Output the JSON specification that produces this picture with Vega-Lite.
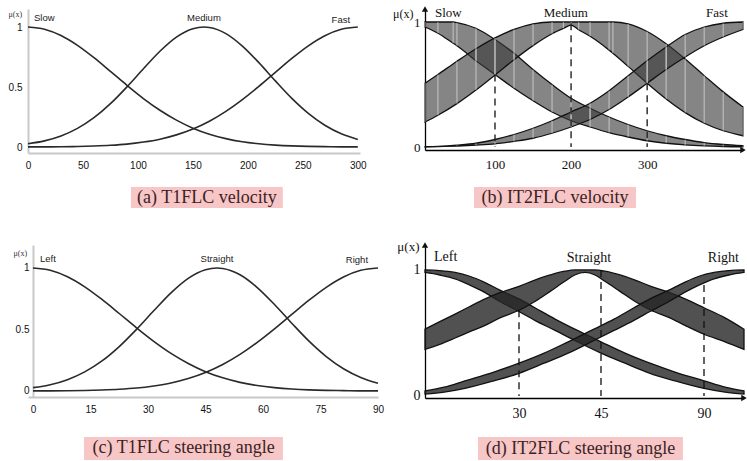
{
"$schema": "https://vega.github.io/schema/vega-lite/v6.json",
"background": "white",
"padding": {"left": 8, "top": 6, "right": 0, "bottom": 0},
"config": {"view": {"stroke": null}, "axis": {"grid": false, "labelFlush": false, "labelOverlap": false, "labelBound": false}},
"datasets": {
"t1v": [
{"x":0,"s":"Slow","m":1},{"x":15,"s":"Slow","m":0.982},{"x":30,"s":"Slow","m":0.929},{"x":45,"s":"Slow","m":0.847},{"x":60,"s":"Slow","m":0.744},{"x":75,"s":"Slow","m":0.63},{"x":90,"s":"Slow","m":0.514},{"x":105,"s":"Slow","m":0.404},{"x":120,"s":"Slow","m":0.306},{"x":135,"s":"Slow","m":0.224},{"x":150,"s":"Slow","m":0.157},{"x":165,"s":"Slow","m":0.107},{"x":180,"s":"Slow","m":0.07},{"x":195,"s":"Slow","m":0.044},{"x":210,"s":"Slow","m":0.027},{"x":225,"s":"Slow","m":0.016},{"x":240,"s":"Slow","m":0.009},{"x":255,"s":"Slow","m":0.005},{"x":270,"s":"Slow","m":0.003},{"x":285,"s":"Slow","m":0.001},{"x":300,"s":"Slow","m":0.001},
{"x":0,"s":"Medium","m":0.027},{"x":15,"s":"Medium","m":0.051},{"x":30,"s":"Medium","m":0.092},{"x":45,"s":"Medium","m":0.155},{"x":60,"s":"Medium","m":0.244},{"x":75,"s":"Medium","m":0.361},{"x":90,"s":"Medium","m":0.501},{"x":105,"s":"Medium","m":0.652},{"x":120,"s":"Medium","m":0.798},{"x":135,"s":"Medium","m":0.916},{"x":150,"s":"Medium","m":0.986},{"x":160,"s":"Medium","m":1},{"x":165,"s":"Medium","m":0.996},{"x":180,"s":"Medium","m":0.945},{"x":195,"s":"Medium","m":0.841},{"x":210,"s":"Medium","m":0.703},{"x":225,"s":"Medium","m":0.551},{"x":240,"s":"Medium","m":0.405},{"x":255,"s":"Medium","m":0.28},{"x":270,"s":"Medium","m":0.181},{"x":285,"s":"Medium","m":0.11},{"x":300,"s":"Medium","m":0.063},
{"x":0,"s":"Fast","m":0.001},{"x":15,"s":"Fast","m":0.001},{"x":30,"s":"Fast","m":0.002},{"x":45,"s":"Fast","m":0.004},{"x":60,"s":"Fast","m":0.008},{"x":75,"s":"Fast","m":0.014},{"x":90,"s":"Fast","m":0.024},{"x":105,"s":"Fast","m":0.041},{"x":120,"s":"Fast","m":0.065},{"x":135,"s":"Fast","m":0.101},{"x":150,"s":"Fast","m":0.15},{"x":165,"s":"Fast","m":0.215},{"x":180,"s":"Fast","m":0.297},{"x":195,"s":"Fast","m":0.395},{"x":210,"s":"Fast","m":0.505},{"x":225,"s":"Fast","m":0.622},{"x":240,"s":"Fast","m":0.738},{"x":255,"s":"Fast","m":0.843},{"x":270,"s":"Fast","m":0.927},{"x":285,"s":"Fast","m":0.981},{"x":300,"s":"Fast","m":1}
],
"t1s": [
{"x":0,"s":"Left","m":1},{"x":4.5,"s":"Left","m":0.982},{"x":9,"s":"Left","m":0.929},{"x":13.5,"s":"Left","m":0.847},{"x":18,"s":"Left","m":0.744},{"x":22.5,"s":"Left","m":0.63},{"x":27,"s":"Left","m":0.514},{"x":31.5,"s":"Left","m":0.404},{"x":36,"s":"Left","m":0.306},{"x":40.5,"s":"Left","m":0.224},{"x":45,"s":"Left","m":0.157},{"x":49.5,"s":"Left","m":0.107},{"x":54,"s":"Left","m":0.07},{"x":58.5,"s":"Left","m":0.044},{"x":63,"s":"Left","m":0.027},{"x":67.5,"s":"Left","m":0.016},{"x":72,"s":"Left","m":0.009},{"x":76.5,"s":"Left","m":0.005},{"x":81,"s":"Left","m":0.003},{"x":85.5,"s":"Left","m":0.001},{"x":90,"s":"Left","m":0.001},
{"x":0,"s":"Straight","m":0.027},{"x":4.5,"s":"Straight","m":0.051},{"x":9,"s":"Straight","m":0.092},{"x":13.5,"s":"Straight","m":0.155},{"x":18,"s":"Straight","m":0.244},{"x":22.5,"s":"Straight","m":0.361},{"x":27,"s":"Straight","m":0.501},{"x":31.5,"s":"Straight","m":0.652},{"x":36,"s":"Straight","m":0.798},{"x":40.5,"s":"Straight","m":0.916},{"x":45,"s":"Straight","m":0.986},{"x":48,"s":"Straight","m":1},{"x":49.5,"s":"Straight","m":0.996},{"x":54,"s":"Straight","m":0.945},{"x":58.5,"s":"Straight","m":0.841},{"x":63,"s":"Straight","m":0.703},{"x":67.5,"s":"Straight","m":0.551},{"x":72,"s":"Straight","m":0.405},{"x":76.5,"s":"Straight","m":0.28},{"x":81,"s":"Straight","m":0.181},{"x":85.5,"s":"Straight","m":0.11},{"x":90,"s":"Straight","m":0.063},
{"x":0,"s":"Right","m":0.001},{"x":4.5,"s":"Right","m":0.001},{"x":9,"s":"Right","m":0.002},{"x":13.5,"s":"Right","m":0.004},{"x":18,"s":"Right","m":0.008},{"x":22.5,"s":"Right","m":0.014},{"x":27,"s":"Right","m":0.024},{"x":31.5,"s":"Right","m":0.041},{"x":36,"s":"Right","m":0.065},{"x":40.5,"s":"Right","m":0.101},{"x":45,"s":"Right","m":0.15},{"x":49.5,"s":"Right","m":0.215},{"x":54,"s":"Right","m":0.297},{"x":58.5,"s":"Right","m":0.395},{"x":63,"s":"Right","m":0.505},{"x":67.5,"s":"Right","m":0.622},{"x":72,"s":"Right","m":0.738},{"x":76.5,"s":"Right","m":0.843},{"x":81,"s":"Right","m":0.927},{"x":85.5,"s":"Right","m":0.981},{"x":90,"s":"Right","m":1}
],
"t2v": [
{"x":8,"s":"Slow","hi":1,"lo":0.96},{"x":25,"s":"Slow","hi":1,"lo":0.91},{"x":45,"s":"Slow","hi":1,"lo":0.83},{"x":50,"s":"Slow","hi":0.995,"lo":0.81},{"x":75,"s":"Slow","hi":0.95,"lo":0.69},{"x":100,"s":"Slow","hi":0.86,"lo":0.58},{"x":125,"s":"Slow","hi":0.75,"lo":0.47},{"x":150,"s":"Slow","hi":0.62,"lo":0.37},{"x":175,"s":"Slow","hi":0.5,"lo":0.28},{"x":200,"s":"Slow","hi":0.39,"lo":0.21},{"x":225,"s":"Slow","hi":0.31,"lo":0.16},{"x":250,"s":"Slow","hi":0.24,"lo":0.115},{"x":275,"s":"Slow","hi":0.18,"lo":0.08},{"x":300,"s":"Slow","hi":0.13,"lo":0.05},{"x":325,"s":"Slow","hi":0.09,"lo":0.03},{"x":350,"s":"Slow","hi":0.06,"lo":0.017},{"x":375,"s":"Slow","hi":0.035,"lo":0.009},{"x":400,"s":"Slow","hi":0.02,"lo":0.004},{"x":426,"s":"Slow","hi":0.01,"lo":0.002},
{"x":8,"s":"Medium","hi":0.51,"lo":0.2},{"x":25,"s":"Medium","hi":0.58,"lo":0.254},{"x":50,"s":"Medium","hi":0.686,"lo":0.347},{"x":75,"s":"Medium","hi":0.786,"lo":0.456},{"x":100,"s":"Medium","hi":0.873,"lo":0.576},{"x":125,"s":"Medium","hi":0.941,"lo":0.698},{"x":150,"s":"Medium","hi":0.985,"lo":0.811},{"x":175,"s":"Medium","hi":1,"lo":0.906},{"x":190,"s":"Medium","hi":1,"lo":0.949},{"x":200,"s":"Medium","hi":1,"lo":0.975},{"x":210,"s":"Medium","hi":1,"lo":0.938},{"x":225,"s":"Medium","hi":1,"lo":0.886},{"x":250,"s":"Medium","hi":1,"lo":0.775},{"x":255,"s":"Medium","hi":1,"lo":0.75},{"x":275,"s":"Medium","hi":0.985,"lo":0.645},{"x":300,"s":"Medium","hi":0.924,"lo":0.51},{"x":325,"s":"Medium","hi":0.826,"lo":0.384},{"x":350,"s":"Medium","hi":0.704,"lo":0.275},{"x":375,"s":"Medium","hi":0.571,"lo":0.19},{"x":400,"s":"Medium","hi":0.441,"lo":0.13},{"x":426,"s":"Medium","hi":0.32,"lo":0.09},
{"x":8,"s":"Fast","hi":0.002,"lo":0},{"x":25,"s":"Fast","hi":0.005,"lo":0.003},{"x":50,"s":"Fast","hi":0.015,"lo":0.008},{"x":75,"s":"Fast","hi":0.03,"lo":0.015},{"x":100,"s":"Fast","hi":0.06,"lo":0.025},{"x":125,"s":"Fast","hi":0.1,"lo":0.045},{"x":150,"s":"Fast","hi":0.15,"lo":0.07},{"x":175,"s":"Fast","hi":0.21,"lo":0.11},{"x":200,"s":"Fast","hi":0.28,"lo":0.16},{"x":225,"s":"Fast","hi":0.35,"lo":0.22},{"x":250,"s":"Fast","hi":0.45,"lo":0.3},{"x":275,"s":"Fast","hi":0.57,"lo":0.4},{"x":300,"s":"Fast","hi":0.69,"lo":0.51},{"x":325,"s":"Fast","hi":0.8,"lo":0.62},{"x":350,"s":"Fast","hi":0.9,"lo":0.72},{"x":375,"s":"Fast","hi":0.96,"lo":0.81},{"x":400,"s":"Fast","hi":0.99,"lo":0.88},{"x":426,"s":"Fast","hi":1,"lo":0.94}
],
"t2s": [
{"x":12.8,"s":"Left","hi":1,"lo":0.98},{"x":15.5,"s":"Left","hi":0.995,"lo":0.96},{"x":18.3,"s":"Left","hi":0.98,"lo":0.93},{"x":21,"s":"Left","hi":0.95,"lo":0.88},{"x":23.8,"s":"Left","hi":0.9,"lo":0.82},{"x":26.5,"s":"Left","hi":0.84,"lo":0.75},{"x":30,"s":"Left","hi":0.77,"lo":0.67},{"x":32.9,"s":"Left","hi":0.7,"lo":0.6},{"x":36.6,"s":"Left","hi":0.61,"lo":0.52},{"x":40.2,"s":"Left","hi":0.53,"lo":0.44},{"x":45,"s":"Left","hi":0.43,"lo":0.34},{"x":55.5,"s":"Left","hi":0.34,"lo":0.26},{"x":66.4,"s":"Left","hi":0.26,"lo":0.18},{"x":77.3,"s":"Left","hi":0.19,"lo":0.12},{"x":90,"s":"Left","hi":0.12,"lo":0.06},{"x":99.2,"s":"Left","hi":0.07,"lo":0.03},{"x":107.5,"s":"Left","hi":0.04,"lo":0.015},
{"x":12.8,"s":"Straight","hi":0.53,"lo":0.37},{"x":15.5,"s":"Straight","hi":0.59,"lo":0.41},{"x":18.3,"s":"Straight","hi":0.65,"lo":0.46},{"x":21,"s":"Straight","hi":0.71,"lo":0.51},{"x":23.8,"s":"Straight","hi":0.77,"lo":0.56},{"x":26.5,"s":"Straight","hi":0.82,"lo":0.62},{"x":30,"s":"Straight","hi":0.87,"lo":0.68},{"x":32.9,"s":"Straight","hi":0.92,"lo":0.75},{"x":35.7,"s":"Straight","hi":0.96,"lo":0.83},{"x":38.4,"s":"Straight","hi":0.99,"lo":0.91},{"x":40.2,"s":"Straight","hi":1,"lo":0.96},{"x":42.1,"s":"Straight","hi":1,"lo":0.98},{"x":43.9,"s":"Straight","hi":1,"lo":0.96},{"x":46.7,"s":"Straight","hi":0.99,"lo":0.91},{"x":53.3,"s":"Straight","hi":0.96,"lo":0.83},{"x":59.9,"s":"Straight","hi":0.92,"lo":0.75},{"x":66.8,"s":"Straight","hi":0.87,"lo":0.68},{"x":75.1,"s":"Straight","hi":0.82,"lo":0.62},{"x":81.7,"s":"Straight","hi":0.77,"lo":0.56},{"x":90,"s":"Straight","hi":0.7,"lo":0.49},{"x":99.2,"s":"Straight","hi":0.62,"lo":0.43},{"x":107.5,"s":"Straight","hi":0.53,"lo":0.37},
{"x":12.8,"s":"Right","hi":0.04,"lo":0.015},{"x":16.3,"s":"Right","hi":0.07,"lo":0.03},{"x":20.1,"s":"Right","hi":0.12,"lo":0.06},{"x":25.4,"s":"Right","hi":0.19,"lo":0.12},{"x":30,"s":"Right","hi":0.26,"lo":0.18},{"x":34.6,"s":"Right","hi":0.34,"lo":0.26},{"x":39,"s":"Right","hi":0.43,"lo":0.34},{"x":43.7,"s":"Right","hi":0.53,"lo":0.44},{"x":50.7,"s":"Right","hi":0.61,"lo":0.52},{"x":59.4,"s":"Right","hi":0.7,"lo":0.6},{"x":66.4,"s":"Right","hi":0.77,"lo":0.67},{"x":74.7,"s":"Right","hi":0.84,"lo":0.75},{"x":81.3,"s":"Right","hi":0.9,"lo":0.82},{"x":87.8,"s":"Right","hi":0.95,"lo":0.88},{"x":94.4,"s":"Right","hi":0.98,"lo":0.93},{"x":100.9,"s":"Right","hi":0.995,"lo":0.96},{"x":107.5,"s":"Right","hi":1,"lo":0.98}
],
"dashv": [{"x":100,"top":0.58},{"x":200,"top":0.99},{"x":300,"top":0.51}],
"dashs": [{"x":30,"top":0.68},{"x":45,"top":1},{"x":90,"top":0.88}]
},
"columns": 2,
"spacing": {"row": 92, "column": 47},
"bounds": "flush",
"concat": [
{"width": 332, "height": 144,
 "layer": [
  {"data": {"name": "t1v"},
   "mark": {"type": "line", "interpolate": "monotone", "color": "#2a2a2a", "strokeWidth": 1.6},
   "encoding": {
    "x": {"field": "x", "type": "quantitative", "scale": {"domain": [0, 302], "nice": false, "zero": false},
      "axis": {"values": [0,50,100,150,200,250,300], "title": null, "ticks": false, "domainColor": "#c8c8c8", "domainWidth": 2, "labelFont": "Liberation Sans", "labelFontSize": 10, "labelColor": "#111", "labelPadding": 7}},
    "y": {"field": "m", "type": "quantitative", "scale": {"domain": [-0.05, 1.15], "nice": false, "zero": false},
      "axis": {"values": [0, 0.5, 1], "format": "~g", "title": "μ(x)", "titleAngle": 0, "titleX": -20, "titleY": 5, "titleAlign": "left", "titleBaseline": "middle", "titleFont": "Liberation Serif", "titleFontSize": 8, "titleFontWeight": "normal", "titleColor": "#333", "ticks": false, "domainColor": "#c8c8c8", "domainWidth": 2, "labelFont": "Liberation Sans", "labelFontSize": 10, "labelColor": "#111", "labelPadding": 6}},
    "detail": {"field": "s", "type": "nominal"}
   }},
  {"data": {"values": [{}]}, "mark": {"type": "text", "text": "Slow", "align": "left", "baseline": "middle", "dx": 6, "font": "Liberation Sans", "fontSize": 9.5, "color": "#222"}, "encoding": {"x": {"datum": 0, "type": "quantitative"}, "y": {"datum": 1.075, "type": "quantitative"}}},
  {"data": {"values": [{}]}, "mark": {"type": "text", "text": "Medium", "align": "center", "baseline": "middle", "font": "Liberation Sans", "fontSize": 9.5, "color": "#222"}, "encoding": {"x": {"datum": 160, "type": "quantitative"}, "y": {"datum": 1.075, "type": "quantitative"}}},
  {"data": {"values": [{}]}, "mark": {"type": "text", "text": "Fast", "align": "right", "baseline": "middle", "font": "Liberation Sans", "fontSize": 9.5, "color": "#222"}, "encoding": {"x": {"datum": 293, "type": "quantitative"}, "y": {"datum": 1.055, "type": "quantitative"}}},
  {"data": {"values": [{}]}, "mark": {"type": "rect", "color": "#f7c6c6"}, "encoding": {"x": {"datum": 93.6, "type": "quantitative"}, "x2": {"datum": 231.8}, "y": {"datum": -0.333, "type": "quantitative"}, "y2": {"datum": -0.508}}},
  {"data": {"values": [{}]}, "mark": {"type": "text", "text": "(a) T1FLC velocity", "align": "center", "baseline": "middle", "font": "Liberation Serif", "fontSize": 18, "color": "#3b2323"}, "encoding": {"x": {"datum": 162.7, "type": "quantitative"}, "y": {"datum": -0.421, "type": "quantitative"}}}
 ]},
{"width": 318, "height": 141,
 "layer": [
  {"data": {"name": "t2v"},
   "mark": {"type": "area", "interpolate": "monotone", "fill": "#3a3a3a", "fillOpacity": 0.62, "stroke": "#111", "strokeWidth": 1.3},
   "encoding": {
    "x": {"field": "x", "type": "quantitative", "scale": {"domain": [8, 426], "nice": false, "zero": false},
      "axis": {"values": [100, 200, 300], "title": null, "ticks": false, "domainColor": "#000", "domainWidth": 1.3, "labelFont": "Liberation Serif", "labelFontSize": 13, "labelColor": "#111", "labelPadding": 8}},
    "y": {"field": "hi", "type": "quantitative", "scale": {"domain": [-0.024, 1.104], "nice": false, "zero": false},
      "axis": {"values": [0, 1], "format": "~g", "title": "μ(x)", "titleAngle": 0, "titleX": -12, "titleY": 4, "titleAlign": "right", "titleBaseline": "middle", "titleFont": "Liberation Serif", "titleFontSize": 12, "titleFontWeight": "normal", "titleColor": "#111", "ticks": false, "domainColor": "#000", "domainWidth": 1.3, "labelFont": "Liberation Serif", "labelFontSize": 13, "labelColor": "#111", "labelPadding": 5}},
    "y2": {"field": "lo"},
    "detail": {"field": "s", "type": "nominal"}
   }},
  {"data": {"name": "t2v"}, "mark": {"type": "rule", "color": "#ffffff", "strokeWidth": 1.2, "opacity": 0.45}, "encoding": {"x": {"field": "x", "type": "quantitative"}, "y": {"field": "hi", "type": "quantitative"}, "y2": {"field": "lo"}}},
  {"data": {"name": "dashv"}, "mark": {"type": "rule", "color": "#111", "strokeWidth": 1.3, "strokeDash": [7, 5]}, "encoding": {"x": {"field": "x", "type": "quantitative"}, "y": {"field": "top", "type": "quantitative"}, "y2": {"datum": 0}}},
  {"data": {"values": [{}]}, "mark": {"type": "point", "shape": "triangle-up", "filled": true, "size": 40, "color": "#111", "opacity": 1}, "encoding": {"x": {"datum": 8, "type": "quantitative"}, "y": {"datum": 1.104, "type": "quantitative"}}},
  {"data": {"values": [{}]}, "mark": {"type": "point", "shape": "triangle-right", "filled": true, "size": 40, "color": "#111", "opacity": 1}, "encoding": {"x": {"datum": 426, "type": "quantitative"}, "y": {"datum": -0.024, "type": "quantitative"}}},
  {"data": {"values": [{}]}, "mark": {"type": "text", "text": "Slow", "align": "left", "baseline": "middle", "dx": 10, "font": "Liberation Serif", "fontSize": 13, "color": "#111"}, "encoding": {"x": {"datum": 8, "type": "quantitative"}, "y": {"datum": 1.07, "type": "quantitative"}}},
  {"data": {"values": [{}]}, "mark": {"type": "text", "text": "Medium", "align": "center", "baseline": "middle", "font": "Liberation Serif", "fontSize": 13, "color": "#111"}, "encoding": {"x": {"datum": 193, "type": "quantitative"}, "y": {"datum": 1.07, "type": "quantitative"}}},
  {"data": {"values": [{}]}, "mark": {"type": "text", "text": "Fast", "align": "right", "baseline": "middle", "font": "Liberation Serif", "fontSize": 13, "color": "#111"}, "encoding": {"x": {"datum": 406, "type": "quantitative"}, "y": {"datum": 1.07, "type": "quantitative"}}},
  {"data": {"values": [{}]}, "mark": {"type": "rect", "color": "#f7c6c6"}, "encoding": {"x": {"datum": 72.4, "type": "quantitative"}, "x2": {"datum": 285.3}, "y": {"datum": -0.32, "type": "quantitative"}, "y2": {"datum": -0.488}}},
  {"data": {"values": [{}]}, "mark": {"type": "text", "text": "(b) IT2FLC velocity", "align": "center", "baseline": "middle", "font": "Liberation Serif", "fontSize": 18, "color": "#3b2323"}, "encoding": {"x": {"datum": 178.9, "type": "quantitative"}, "y": {"datum": -0.404, "type": "quantitative"}}}
 ]},
{"width": 350, "height": 152,
 "layer": [
  {"data": {"name": "t1s"},
   "mark": {"type": "line", "interpolate": "monotone", "color": "#2a2a2a", "strokeWidth": 1.6},
   "encoding": {
    "x": {"field": "x", "type": "quantitative", "scale": {"domain": [-1.3, 90], "nice": false, "zero": false},
      "axis": {"values": [0,15,30,45,60,75,90], "title": null, "ticks": false, "domainColor": "#c8c8c8", "domainWidth": 2, "labelFont": "Liberation Sans", "labelFontSize": 10, "labelColor": "#111", "labelPadding": 7}},
    "y": {"field": "m", "type": "quantitative", "scale": {"domain": [-0.049, 1.187], "nice": false, "zero": false},
      "axis": {"offset": -5, "values": [0, 0.5, 1], "format": "~g", "title": "μ(x)", "titleAngle": 0, "titleX": -20, "titleY": 8, "titleAlign": "left", "titleBaseline": "middle", "titleFont": "Liberation Serif", "titleFontSize": 8, "titleFontWeight": "normal", "titleColor": "#333", "ticks": false, "domainColor": "#c8c8c8", "domainWidth": 2, "labelFont": "Liberation Sans", "labelFontSize": 10, "labelColor": "#111", "labelPadding": 4}},
    "detail": {"field": "s", "type": "nominal"}
   }},
  {"data": {"values": [{}]}, "mark": {"type": "text", "text": "Left", "align": "left", "baseline": "middle", "dx": 7, "font": "Liberation Sans", "fontSize": 9.5, "color": "#222"}, "encoding": {"x": {"datum": 0, "type": "quantitative"}, "y": {"datum": 1.073, "type": "quantitative"}}},
  {"data": {"values": [{}]}, "mark": {"type": "text", "text": "Straight", "align": "center", "baseline": "middle", "font": "Liberation Sans", "fontSize": 9.5, "color": "#222"}, "encoding": {"x": {"datum": 48, "type": "quantitative"}, "y": {"datum": 1.073, "type": "quantitative"}}},
  {"data": {"values": [{}]}, "mark": {"type": "text", "text": "Right", "align": "right", "baseline": "middle", "font": "Liberation Sans", "fontSize": 9.5, "color": "#222"}, "encoding": {"x": {"datum": 87.4, "type": "quantitative"}, "y": {"datum": 1.065, "type": "quantitative"}}},
  {"data": {"values": [{}]}, "mark": {"type": "rect", "color": "#f7c6c6"}, "encoding": {"x": {"datum": 13.3, "type": "quantitative"}, "x2": {"datum": 65.2}, "y": {"datum": -0.374, "type": "quantitative"}, "y2": {"datum": -0.561}}},
  {"data": {"values": [{}]}, "mark": {"type": "text", "text": "(c) T1FLC steering angle", "align": "center", "baseline": "middle", "font": "Liberation Serif", "fontSize": 18, "color": "#3b2323"}, "encoding": {"x": {"datum": 39.3, "type": "quantitative"}, "y": {"datum": -0.467, "type": "quantitative"}}}
 ]},
{"width": 319, "height": 153,
 "layer": [
  {"data": {"name": "t2s"},
   "mark": {"type": "area", "interpolate": "monotone", "fill": "#262626", "fillOpacity": 0.8, "stroke": "#111", "strokeWidth": 1.3},
   "encoding": {
    "x": {"field": "x", "type": "quantitative", "scale": {"domain": [12.8, 30, 45, 90, 107.5], "range": [0, 94, 176, 279, 319], "nice": false, "zero": false},
      "axis": {"values": [30, 45, 90], "title": null, "ticks": false, "domainColor": "#000", "domainWidth": 1.3, "labelFont": "Liberation Serif", "labelFontSize": 14, "labelColor": "#111", "labelPadding": 8}},
    "y": {"field": "hi", "type": "quantitative", "scale": {"domain": [-0.016, 1.198], "nice": false, "zero": false},
      "axis": {"values": [0, 1], "format": "~g", "title": "μ(x)", "titleAngle": 0, "titleX": -6, "titleY": 1, "titleAlign": "right", "titleBaseline": "middle", "titleFont": "Liberation Serif", "titleFontSize": 13, "titleFontWeight": "normal", "titleColor": "#111", "ticks": false, "domainColor": "#000", "domainWidth": 1.3, "labelFont": "Liberation Serif", "labelFontSize": 14, "labelColor": "#111", "labelPadding": 5}},
    "y2": {"field": "lo"},
    "detail": {"field": "s", "type": "nominal"}
   }},
  {"data": {"name": "dashs"}, "mark": {"type": "rule", "color": "#111", "strokeWidth": 1.3, "strokeDash": [7, 5]}, "encoding": {"x": {"field": "x", "type": "quantitative"}, "y": {"field": "top", "type": "quantitative"}, "y2": {"datum": 0}}},
  {"data": {"values": [{}]}, "mark": {"type": "point", "shape": "triangle-up", "filled": true, "size": 40, "color": "#111", "opacity": 1}, "encoding": {"x": {"datum": 12.8, "type": "quantitative"}, "y": {"datum": 1.198, "type": "quantitative"}}},
  {"data": {"values": [{}]}, "mark": {"type": "point", "shape": "triangle-right", "filled": true, "size": 40, "color": "#111", "opacity": 1}, "encoding": {"x": {"datum": 107.5, "type": "quantitative"}, "y": {"datum": -0.016, "type": "quantitative"}}},
  {"data": {"values": [{}]}, "mark": {"type": "text", "text": "Left", "align": "left", "baseline": "middle", "dx": 9, "font": "Liberation Serif", "fontSize": 14, "color": "#111"}, "encoding": {"x": {"datum": 12.8, "type": "quantitative"}, "y": {"datum": 1.1, "type": "quantitative"}}},
  {"data": {"values": [{}]}, "mark": {"type": "text", "text": "Straight", "align": "center", "baseline": "middle", "font": "Liberation Serif", "fontSize": 14, "color": "#111"}, "encoding": {"x": {"datum": 42.8, "type": "quantitative"}, "y": {"datum": 1.095, "type": "quantitative"}}},
  {"data": {"values": [{}]}, "mark": {"type": "text", "text": "Right", "align": "right", "baseline": "middle", "font": "Liberation Serif", "fontSize": 14, "color": "#111"}, "encoding": {"x": {"datum": 105.3, "type": "quantitative"}, "y": {"datum": 1.095, "type": "quantitative"}}},
  {"data": {"values": [{}]}, "mark": {"type": "rect", "color": "#f7c6c6"}, "encoding": {"x": {"datum": 22.5, "type": "quantitative"}, "x2": {"datum": 80.8}, "y": {"datum": -0.326, "type": "quantitative"}, "y2": {"datum": -0.508}}},
  {"data": {"values": [{}]}, "mark": {"type": "text", "text": "(d) IT2FLC steering angle", "align": "center", "baseline": "middle", "font": "Liberation Serif", "fontSize": 18, "color": "#3b2323"}, "encoding": {"x": {"datum": 41.25, "type": "quantitative"}, "y": {"datum": -0.417, "type": "quantitative"}}}
 ]}
]
}
